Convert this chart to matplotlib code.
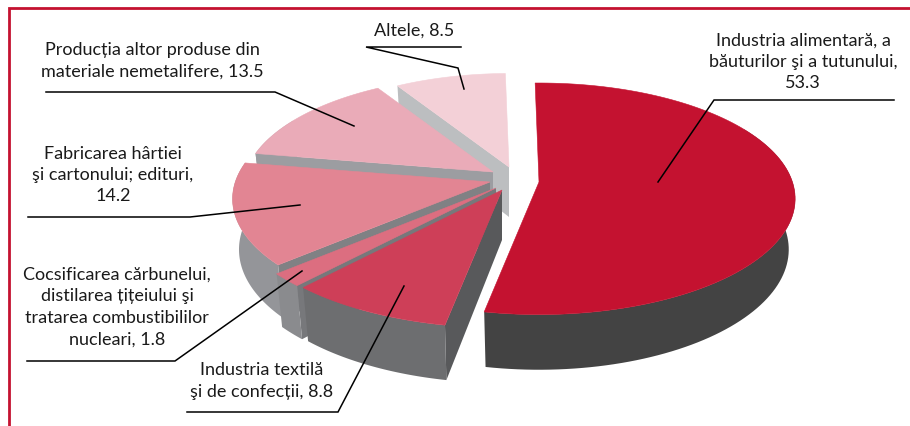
import numpy as np
import matplotlib
matplotlib.use('Agg')
import matplotlib.pyplot as plt
from matplotlib.patches import Polygon

# Data
categories = ['Industria alimentară, a\nbăuturilor şi a tutunului,\n53.3',
              'Industria textilă\nşi de confecții, 8.8',
              'Cocsificarea cărbunelui,\ndistilarea țițeiului şi\ntratarea combustibililor\nnucleari, 1.8',
              'Fabricarea hârtiei\nşi cartonului; edituri,\n14.2',
              'Producția altor produse din\nmateriale nemetalifere, 13.5',
              'Altele, 8.5']
values = [53.3, 8.8, 1.8, 14.2, 13.5, 8.5]

# Colours: top face, outer wall, cut wall
top_colors = ['#c41230', '#ce3f58', '#dc6e80', '#e28593', '#eaabb8', '#f3d0d7']
wall_colors = ['#434343', '#6d6e70', '#8a8b8e', '#949599', '#9c9da1', '#bcbec0']
cut_colors = ['#434343', '#58595b', '#77787b', '#808184', '#9c9da1', '#bcbec0']

# Layout, in pixels of the 910x427 picture
apex = [(539, 183), (502, 191), (496, 189), (490, 183), (493, 173), (509, 168)]
radius = [0.99, 1.03, 1.03, 0.995, 0.965, 0.935]
label_pos = [(803, 62), (262, 381), (117, 307), (113, 175), (152, 61), (414, 31)]
leaders = [[(894, 101), (714, 101), (658, 183)],
           [(187, 413), (338, 413), (404, 287)],
           [(27, 362), (175, 362), (302, 272)],
           [(28, 218), (190, 218), (300, 206)],
           [(46, 93), (275, 93), (354, 127)],
           [(461, 48), (366, 48), (458, 69), (464, 90)]]
RX, RY, K = 256, 114.5, 0.145   # ellipse radii and perspective
DEPTH = 50
BOTTOM_SCALE = 0.975
START = -1


def project(center, theta, r=1.0, bottom=False):
    # theta in degrees, clockwise from the top
    t = np.radians(theta)
    d = -np.cos(t)
    s = 1 / (1 - K * d)
    x = r * RX * np.sin(t) * s
    y = r * RY * d * s
    if bottom:
        return np.column_stack([center[0] + x * BOTTOM_SCALE, center[1] + y * BOTTOM_SCALE + DEPTH * s])
    return np.column_stack([center[0] + x, center[1] + y])


fig = plt.figure(figsize=(9.1, 4.27), dpi=100, facecolor='white')
ax = fig.add_axes([0, 0, 1, 1])
ax.set_xlim(0, 910)
ax.set_ylim(427, 0)
ax.axis('off')

# Frame
ax.plot([8.5, 8.5, 910], [427, 8.5, 8.5], color='#c41230', lw=2, solid_joinstyle='miter')

angles = START + np.concatenate([[0], np.cumsum(values)]) / sum(values) * 360

# Back slices first so the front ones cover them
for i in [5, 4, 3, 2, 1, 0]:
    th = np.linspace(angles[i], angles[i + 1], 120)
    c = apex[i]
    top_arc = project(c, th, radius[i])
    bot_arc = project(c, th, radius[i], bottom=True)
    apex_low = (c[0], c[1] + DEPTH)
    # wall along the cut at the first angle (the big slice hides its own)
    if i > 0:
        ax.add_patch(Polygon([c, top_arc[0], bot_arc[0], apex_low], fc=cut_colors[i], ec='none', zorder=2))
    # outer wall, only the part that faces the viewer
    front = (th > 60) & (th < 300)
    if front.sum() > 1:
        ax.add_patch(Polygon(np.vstack([top_arc[front], bot_arc[front][::-1]]),
                             fc=wall_colors[i], ec='none', zorder=2))
    # top face
    ax.add_patch(Polygon(np.vstack([[c], top_arc]), fc=top_colors[i], ec=top_colors[i], lw=0.4, zorder=2))

for pts in leaders:
    xs, ys = zip(*pts)
    ax.plot(xs, ys, color='black', lw=1.1, zorder=4, solid_joinstyle='miter')

for lab, (x, y) in zip(categories, label_pos):
    ax.text(x, y, lab, ha='center', va='center', fontsize=13, family='Lato',
            color='#1a1a1a', linespacing=1.42, zorder=5)

fig.savefig('out.png', dpi=100, facecolor='white')
